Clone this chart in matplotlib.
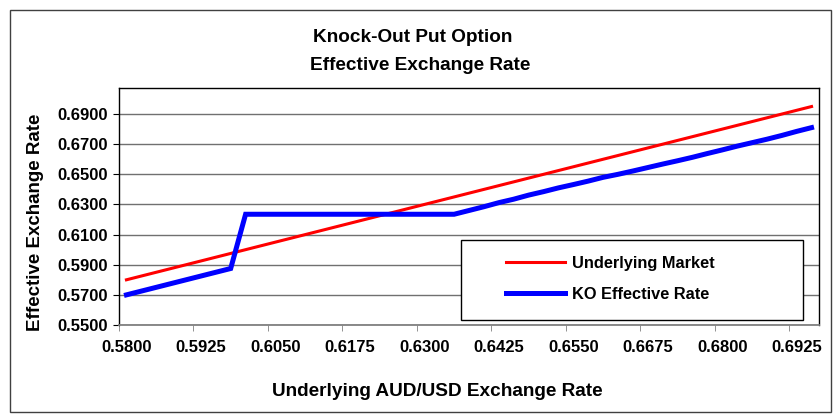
import numpy as np
from matplotlib import pyplot as plt
from matplotlib.patches import Rectangle

plt.rcParams['font.family'] = ['Liberation Sans', 'DejaVu Sans']
plt.rcParams['font.weight'] = 'bold'

# underlying AUD/USD spot (category axis, 47 points)
spot = [0.5800, 0.5825, 0.5850, 0.5875, 0.5900, 0.5925, 0.5950, 0.5975,
        0.6000, 0.6025, 0.6050, 0.6075, 0.6100, 0.6125, 0.6150, 0.6175,
        0.6200, 0.6225, 0.6250, 0.6275, 0.6300, 0.6325, 0.6350, 0.6375,
        0.6400, 0.6425, 0.6450, 0.6475, 0.6500, 0.6525, 0.6550, 0.6575,
        0.6600, 0.6625, 0.6650, 0.6675, 0.6700, 0.6725, 0.6750, 0.6775,
        0.6800, 0.6825, 0.6850, 0.6875, 0.6900, 0.6925, 0.6950]

underlying = [0.5800, 0.5825, 0.5850, 0.5875, 0.5900, 0.5925, 0.5950, 0.5975,
              0.6000, 0.6025, 0.6050, 0.6075, 0.6100, 0.6125, 0.6150, 0.6175,
              0.6200, 0.6225, 0.6250, 0.6275, 0.6300, 0.6325, 0.6350, 0.6375,
              0.6400, 0.6425, 0.6450, 0.6475, 0.6500, 0.6525, 0.6550, 0.6575,
              0.6600, 0.6625, 0.6650, 0.6675, 0.6700, 0.6725, 0.6750, 0.6775,
              0.6800, 0.6825, 0.6850, 0.6875, 0.6900, 0.6925, 0.6950]

ko_rate = [0.5700, 0.5725, 0.5750, 0.5775, 0.5800, 0.5825, 0.5850, 0.5875,
           0.6235, 0.6235, 0.6235, 0.6235, 0.6235, 0.6235, 0.6235, 0.6235,
           0.6235, 0.6235, 0.6235, 0.6235, 0.6235, 0.6235, 0.6235, 0.6260,
           0.6285, 0.6312, 0.6335, 0.6362, 0.6385, 0.6410, 0.6432, 0.6455,
           0.6480, 0.6500, 0.6522, 0.6545, 0.6568, 0.6590, 0.6613, 0.6638,
           0.6662, 0.6687, 0.6710, 0.6733, 0.6758, 0.6785, 0.6810]

x_labels = [0.5800, 0.5925, 0.6050, 0.6175, 0.6300, 0.6425, 0.6550, 0.6675, 0.6800, 0.6925]
x_bounds = [0.57875, 0.59125, 0.60375, 0.61625, 0.62875, 0.64125, 0.65375, 0.66625, 0.67875, 0.69125]
y_ticks = [0.55, 0.57, 0.59, 0.61, 0.63, 0.65, 0.67, 0.69]

fig = plt.figure(figsize=(8.4, 4.19), dpi=100)
fig.patch.set_facecolor('white')

# chart area border
fig.patches.append(Rectangle((9.5/840, 1-412/419), 821.5/840, 402/419, transform=fig.transFigure,
                             fill=False, edgecolor='#404040', lw=1))

ax = fig.add_axes([119/840, 1-325/419, 700/840, 237/419])

l1, = ax.plot(spot, underlying, color='#ff0000', lw=2.2, solid_joinstyle='miter')
l2, = ax.plot(spot, ko_rate, color='#0000ff', lw=3.6, solid_joinstyle='miter')

ax.set_xlim(0.57875, 0.69625)
ax.set_ylim(0.55, 0.7073)

ax.set_xticks(x_labels)
ax.set_xticklabels(['%.4f' % v for v in x_labels])
ax.set_xticks(x_bounds, minor=True)
ax.tick_params(axis='x', which='major', length=0, pad=11, labelsize=12)
ax.tick_params(axis='x', which='minor', length=4, direction='out', color='#808080')

ax.set_yticks(y_ticks)
ax.set_yticklabels(['%.4f' % v for v in y_ticks])
ax.tick_params(axis='y', length=4, direction='out', pad=4, labelsize=12)
ax.yaxis.grid(True, color='#707070', lw=1)
ax.set_axisbelow(True)

for s in ['left', 'top', 'right']:
    ax.spines[s].set_color('black')
    ax.spines[s].set_linewidth(1)
ax.spines['bottom'].set_color('#808080')
ax.spines['bottom'].set_linewidth(1.3)

fig.text(413/840, 1-38/419, 'Knock-Out Put Option', ha='center', va='center', fontsize=13.7, fontweight='bold')
fig.text(420/840, 1-65/419, 'Effective Exchange Rate', ha='center', va='center', fontsize=13.7, fontweight='bold')
fig.text(437/840, 1-391/419, 'Underlying AUD/USD Exchange Rate', ha='center', va='center', fontsize=13.7, fontweight='bold')
fig.text(36/840, 1-222/419, 'Effective Exchange Rate', ha='center', va='center', rotation=90,
         fontsize=13.5, fontweight='bold')

# legend box
fig.patches.append(Rectangle((461/840, 1-320/419), 342/840, 80/419, transform=fig.transFigure,
                             facecolor='white', edgecolor='black', lw=1, zorder=5))
leg = fig.legend([l1, l2], ['Underlying Market', 'KO Effective Rate'], loc='center left',
                 bbox_to_anchor=(506/840, 1-279/419), frameon=False, fontsize=11.8,
                 handlelength=3.6, handletextpad=0.45, labelspacing=1.0, borderpad=0, borderaxespad=0)
leg.set_zorder(6)

fig.savefig('out.png', dpi=100, facecolor='white')
